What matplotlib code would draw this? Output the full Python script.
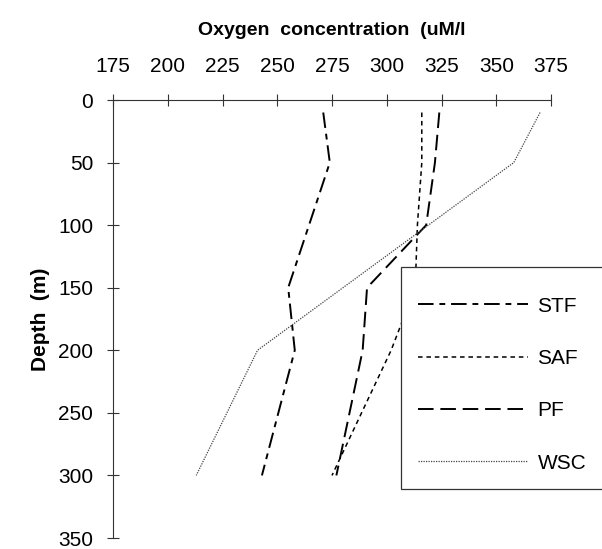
import matplotlib
matplotlib.use('Agg')
import matplotlib.pyplot as plt
from matplotlib.patches import Rectangle

plt.rcParams['font.family'] = ['Liberation Sans', 'DejaVu Sans']

# oxygen profiles (uM/l) against depth (m) for each front
stf_depth = [10, 50, 150, 200, 300]
stf_oxy = [271, 274, 255, 258, 243]

saf_depth = [10, 50, 100, 150, 200, 300]
saf_oxy = [316, 316, 314, 313, 302, 275]

pf_depth = [10, 50, 100, 150, 200, 300]
pf_oxy = [324, 322, 318, 291, 289, 277]

wsc_depth = [10, 50, 100, 150, 200, 300]
wsc_oxy = [370, 358, 319, 280, 241, 213]

x_ticks = [175, 200, 225, 250, 275, 300, 325, 350, 375]
y_ticks = [0, 50, 100, 150, 200, 250, 300, 350]

fig = plt.figure(figsize=(6.02, 5.49), dpi=100)
ax = fig.add_axes([113/602, 1 - 538/549, 438/602, 438/549])

ax.plot(stf_oxy, stf_depth, color='black', lw=1.4, dashes=(8, 3, 3, 3), label='STF')
ax.plot(saf_oxy, saf_depth, color='black', lw=1.1, dashes=(3, 2.5), label='SAF')
ax.plot(pf_oxy, pf_depth, color='black', lw=1.4, dashes=(8, 3.5), label='PF')
ax.plot(wsc_oxy, wsc_depth, color='#444444', lw=0.9, dashes=(1, 1), label='WSC')

ax.set_xlim(175, 375)
ax.set_ylim(350, 0)
ax.set_xticks(x_ticks)
ax.set_yticks(y_ticks)

ax.xaxis.tick_top()
ax.xaxis.set_label_position('top')
for s in ['right', 'bottom']:
    ax.spines[s].set_visible(False)
for s in ['top', 'left']:
    ax.spines[s].set_linewidth(0.8)
    ax.spines[s].set_color('#333333')

ax.tick_params(axis='both', direction='inout', length=8.6, width=0.8,
               color='#333333', labelsize=15)
ax.tick_params(axis='x', pad=13)
ax.tick_params(axis='y', pad=10)

ax.set_xlabel('Oxygen  concentration  (uM/l', fontsize=14, fontweight='bold', labelpad=16)
ax.set_ylabel('Depth  (m)', fontsize=15, fontweight='bold', labelpad=6)

# legend box runs off the right edge and hides the lines behind it
box = Rectangle((401/602, 1 - 489/549), 0.4, 222/549, transform=fig.transFigure,
                facecolor='white', edgecolor='#333333', lw=0.9, zorder=3, clip_on=False)
ax.add_artist(box)

leg = ax.legend(loc='upper left', bbox_to_anchor=(399/602, 1 - 278/549),
                bbox_transform=fig.transFigure, frameon=False, fontsize=15,
                handlelength=5.3, handletextpad=0.45, labelspacing=1.6)
leg.set_zorder(5)

plt.savefig('out.png', dpi=100)
